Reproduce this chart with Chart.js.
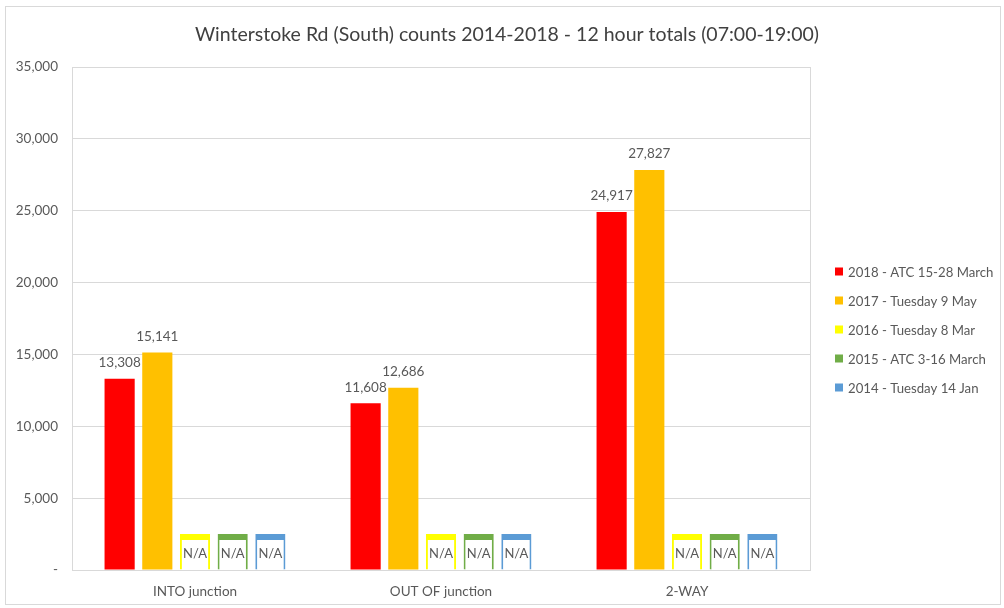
<!DOCTYPE html>
<html>
<head>
<meta charset="utf-8">
<title>Winterstoke Rd (South) counts</title>
<script src="https://cdn.jsdelivr.net/npm/chart.js@4/dist/chart.umd.min.js"></script>
<style>
  html, body { margin: 0; padding: 0; background: #fff; }
  #wrap { width: 1004px; height: 608px; }
</style>
</head>
<body>
<div id="wrap"><canvas id="myChart" width="1004" height="608"></canvas></div>
<script>
const categories = ["INTO junction", "OUT OF junction", "2-WAY"];
const seriesNames = [
  "2018 - ATC 15-28 March",
  "2017 - Tuesday 9 May",
  "2016 - Tuesday 8 Mar",
  "2015 - ATC 3-16 March",
  "2014 - Tuesday 14 Jan"
];
const counts2018 = [13308, 11608, 24917];
const counts2017 = [15141, 12686, 27827];
// no counts for these years, a small placeholder box marked N/A
const naPlaceholder = [2500, 2500, 2500];
const yTicks = [0, 5000, 10000, 15000, 20000, 25000, 30000, 35000];

const colores = ["#ff0000", "#ffc000", "#ffff00", "#70ad47", "#5b9bd5"];
const FONT = "Lato, 'Open Sans', sans-serif";
const GRIS = "#595959";

const fmt = (v) => v.toLocaleString("en-GB");

const datasets = [
  { label: seriesNames[0], data: counts2018, backgroundColor: colores[0] },
  { label: seriesNames[1], data: counts2017, backgroundColor: colores[1] },
];
for (let i = 2; i < 5; i++) {
  datasets.push({
    label: seriesNames[i],
    data: naPlaceholder,
    backgroundColor: "#ffffff",
    borderColor: colores[i],
    borderWidth: { top: 6, left: 2, right: 2, bottom: 0 },
    borderSkipped: "bottom",
    isNA: true,
  });
}

// marco, borde del area de grafico, titulo, etiquetas y leyenda
const extras = {
  id: "extras",
  beforeDraw(chart) {
    const ctx = chart.ctx;
    ctx.save();
    ctx.fillStyle = "#fff";
    ctx.fillRect(0, 0, chart.width, chart.height);
    ctx.strokeStyle = "#d9d9d9";
    ctx.lineWidth = 1;
    ctx.strokeRect(5.5, 6.5, 995, 598);
    ctx.restore();
  },
  beforeDatasetsDraw(chart) {
    const { ctx, chartArea: a } = chart;
    ctx.save();
    ctx.strokeStyle = "#d9d9d9";
    ctx.lineWidth = 1;
    ctx.strokeRect(Math.round(a.left) + 0.5, Math.round(a.top) + 0.5,
      Math.round(a.right - a.left), Math.round(a.bottom - a.top));
    ctx.restore();
  },
  afterDatasetsDraw(chart) {
    const ctx = chart.ctx;
    ctx.save();
    ctx.textAlign = "center";
    ctx.textBaseline = "middle";
    ctx.fillStyle = GRIS;
    chart.data.datasets.forEach((ds, di) => {
      const meta = chart.getDatasetMeta(di);
      meta.data.forEach((bar, i) => {
        if (ds.isNA) {
          ctx.font = "13px " + FONT;
          ctx.fillText("N/A", bar.x, bar.y + 20);
        } else {
          ctx.font = "13.5px " + FONT;
          ctx.fillText(fmt(ds.data[i]), bar.x, bar.y - 16);
        }
      });
    });

    // titulo
    ctx.fillStyle = "#404040";
    ctx.font = "19.5px " + FONT;
    ctx.fillText("Winterstoke Rd (South) counts 2014-2018 - 12 hour totals (07:00-19:00)", 507, 35);

    // leyenda
    ctx.textAlign = "left";
    ctx.font = "13.2px " + FONT;
    chart.data.datasets.forEach((ds, di) => {
      const y = 271.5 + di * 29;
      ctx.fillStyle = colores[di];
      ctx.fillRect(835, y - 4, 8, 8);
      ctx.fillStyle = GRIS;
      ctx.fillText(ds.label, 848, y + 1);
    });
    ctx.restore();
  },
};

const config = {
  type: "bar",
  data: { labels: categories, datasets },
  options: {
    responsive: false,
    animation: false,
    layout: { padding: { top: 67, right: 194, bottom: 8, left: 8 } },
    datasets: {
      bar: { categoryPercentage: 0.766, barPercentage: 0.8 },
    },
    plugins: {
      legend: { display: false },
      title: { display: false },
      tooltip: { enabled: false },
    },
    scales: {
      x: {
        grid: { display: false },
        border: { display: false },
        ticks: { color: GRIS, font: { family: FONT, size: 13.5 }, padding: 6 },
        afterFit: (s) => { s.height = 30; },
      },
      y: {
        min: 0,
        max: 35000,
        afterBuildTicks: (s) => { s.ticks = yTicks.map((v) => ({ value: v })); },
        grid: { color: "#d9d9d9", drawTicks: false },
        border: { display: false },
        ticks: {
          color: GRIS,
          font: { family: FONT, size: 13.5 },
          padding: 14,
          callback: (v) => (v === 0 ? "-" : fmt(v)),
        },
        afterFit: (s) => { s.width = 64; },
      },
    },
  },
  plugins: [extras],
};

var myChart = new Chart(document.getElementById("myChart"), config);
</script>
</body>
</html>
